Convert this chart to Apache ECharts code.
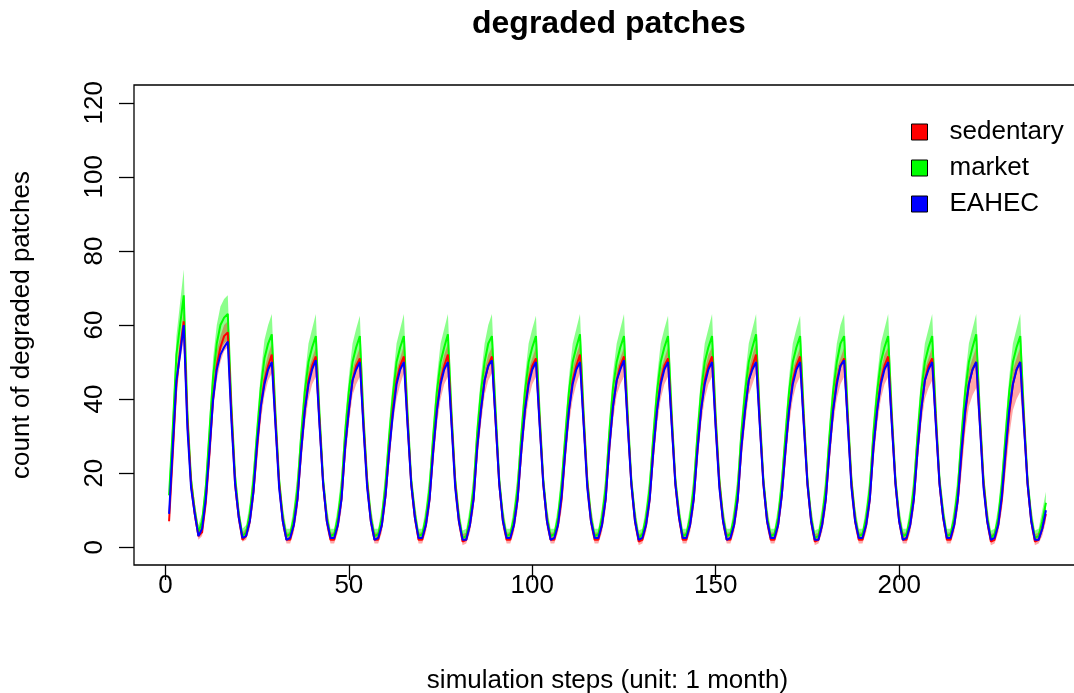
<!DOCTYPE html>
<html>
<head>
<meta charset="utf-8">
<script src="https://cdn.jsdelivr.net/npm/echarts@6/dist/echarts.min.js"></script>
<style>
  html, body { margin: 0; padding: 0; background: #fff; }
  #chart { width: 1074px; height: 693px; }
</style>
</head>
<body>
<div id="chart"></div>
<script>
// simulation steps 1..240
const steps = [
  1,2,3,4,5,6,7,8,9,10,11,12, 13,14,15,16,17,18,19,20,21,22,23,24,
  25,26,27,28,29,30,31,32,33,34,35,36, 37,38,39,40,41,42,43,44,45,46,47,48,
  49,50,51,52,53,54,55,56,57,58,59,60, 61,62,63,64,65,66,67,68,69,70,71,72,
  73,74,75,76,77,78,79,80,81,82,83,84, 85,86,87,88,89,90,91,92,93,94,95,96,
  97,98,99,100,101,102,103,104,105,106,107,108, 109,110,111,112,113,114,115,116,117,118,119,120,
  121,122,123,124,125,126,127,128,129,130,131,132, 133,134,135,136,137,138,139,140,141,142,143,144,
  145,146,147,148,149,150,151,152,153,154,155,156, 157,158,159,160,161,162,163,164,165,166,167,168,
  169,170,171,172,173,174,175,176,177,178,179,180, 181,182,183,184,185,186,187,188,189,190,191,192,
  193,194,195,196,197,198,199,200,201,202,203,204, 205,206,207,208,209,210,211,212,213,214,215,216,
  217,218,219,220,221,222,223,224,225,226,227,228, 229,230,231,232,233,234,235,236,237,238,239,240
];

// EAHEC mean
const eahecMean = [
  9,27,45,52,60,32,16,9,3,5,13,26,
  40,48,52,54,55.5,34,17,8,2.5,3,7,15,
  28,38,44,48,50,33,16,7,2,2.5,6,13,
  26,37,44,48,50.5,33,17,7,2.5,2.5,6,13,
  27,37,45,48,50,32,16,7,2,2.5,6,14,
  26,36,44,48,50,33,17,8,2.5,2.5,6,13,
  26,37,44,48,50,33,16,7,2,2,6,13,
  27,37,45,49,50.5,34,17,7,2.5,2.5,6,13,
  26,37,44,48,50,33,17,7,2,2.5,6,14,
  26,37,44,48,50,33,16,7,2.5,2.5,6,13,
  27,38,45,48,50.5,33,17,7,2,2.5,6,13,
  26,37,44,48,50,33,17,8,2.5,2.5,6,13,
  26,37,44,48,50,32,16,7,2,2.5,6,13,
  27,37,45,48,50,33,17,7,2.5,2.5,6,14,
  26,37,44,48,50,33,17,7,2,2,6,13,
  26,37,44,49,50.5,33,16,7,2.5,2.5,6,13,
  27,37,44,48,50,33,17,7,2,2.5,6,13,
  26,37,45,48,50,33,17,8,2.5,2.5,6,13,
  26,37,44,48,50,33,16,7,2,2.5,6,14,
  26,37,44,48,50,33,17,7,2,2,5,10
];

// sedentary mean, lower and upper
const sedMean = [
  7,25,44,53,61,34,17,9,3,4,12,25,
  40,49,54,57,58,36,17,8,2,3,7,15,
  27,38,45,49,52,34,17,7,2,2,6,13,
  26,37,45,49,51.5,34,17,7,2,2,6,13,
  27,37,45,49,51,33,17,7,2,2,6,14,
  26,37,45,49,51.5,34,17,8,2,2,6,13,
  26,37,45,49,52,34,17,7,1.5,2,6,13,
  27,37,45,49,51.5,34,17,7,2,2,6,13,
  26,37,45,49,51,34,17,7,2,2,6,13,
  26,37,45,49,52,34,17,7,2,2,6,13,
  27,38,45,49,51.5,34,17,7,1.5,2,6,13,
  26,37,45,49,51,34,17,8,2,2,6,13,
  26,37,45,49,51.5,33,17,7,2,2,6,13,
  27,37,45,49,52,34,17,7,2,2,6,14,
  26,37,45,49,51.5,34,17,7,1.5,2,6,13,
  26,37,45,49,51,34,17,7,2,2,6,13,
  27,37,45,49,51.5,34,17,7,2,2,6,13,
  26,37,45,49,51,34,17,8,2,2,6,13,
  25,36,44,48,50,34,17,7,1.5,2,6,13,
  25,36,44,48,50,34,17,7,1.5,2,5,9
];
const sedLow = [
  6,22,40,50,56,30,14,7,2,3,10,22,
  37,45,50,53,54,31,14,6,1.5,2,5,12,
  23,34,41,45,47,29,14,5,1,1,4,10,
  22,33,40,44,46,29,14,5,1,1,4,10,
  23,33,41,44,46,28,14,5,1,1,4,11,
  22,33,40,44,47,29,14,6,1,1,4,10,
  22,33,40,44,46,29,13,5,0.5,1,4,10,
  23,33,41,45,47,30,14,5,1,1,4,10,
  22,33,40,44,46,29,14,5,1,1,4,10,
  22,33,40,44,47,29,13,5,1,1,4,10,
  23,34,41,44,46,29,14,5,0.5,1,4,10,
  22,33,40,44,46,29,14,6,1,1,4,10,
  22,33,40,44,46,28,13,5,1,1,4,10,
  23,33,41,44,47,29,14,5,1,1,4,11,
  22,33,40,44,46,29,14,5,0.5,1,4,10,
  22,33,40,44,46,29,13,5,1,1,4,10,
  23,33,40,44,46,29,14,5,1,1,4,10,
  22,33,40,43,45,29,14,6,1,1,4,10,
  20,31,38,41,43,29,14,5,0.5,1,4,10,
  20,30,37,40,42,29,14,5,0.5,1,3,7
];
const sedHigh = [
  10,28,47,56,64,37,20,12,5,6,15,29,
  44,53,57,60,61,39,20,11,4,5,10,18,
  31,41,48,52,55,37,20,10,4,4,8,16,
  30,40,48,51,54,37,20,10,4,4,8,16,
  31,40,48,51,54,36,20,10,4,4,8,17,
  30,40,48,51,54.5,37,20,11,4,4,8,16,
  30,40,48,52,55,37,20,10,3.5,4,8,16,
  31,40,48,52,54,37,20,10,4,4,8,16,
  30,40,48,51,54,37,20,10,4,4,8,16,
  30,40,48,52,55,37,20,10,4,4,8,16,
  31,41,48,51,54,37,20,10,3.5,4,8,16,
  30,40,48,51,54,37,20,11,4,4,8,16,
  30,40,48,52,54,36,20,10,4,4,8,16,
  31,40,48,52,55,37,20,10,4,4,8,17,
  30,40,48,51,54,37,20,10,3.5,4,8,16,
  30,40,48,51,54,37,20,10,4,4,8,16,
  31,40,48,52,54,37,20,10,4,4,8,16,
  30,40,48,51,54,37,20,11,4,4,8,16,
  30,40,48,51,54,37,20,10,3.5,4,8,16,
  30,40,48,51,54,37,20,10,3.5,4,7,12
];

// market mean, lower and upper
const mktMean = [
  14,32,52,60,68,36,18,10,4,7,16,31,
  46,55,60,62,63,38,19,9,3,4,9,18,
  31,43,51,55,57.5,36,18,8,3,3.5,8,16,
  30,42,50,54,57,36,18,8,3,3.5,8,16,
  31,42,50,54,57,35,18,8,3,3.5,8,17,
  30,41,50,54,57,36,18,9,3,3.5,8,16,
  30,42,50,54,57.5,36,18,8,2.5,3,8,16,
  31,42,50,55,57,37,18,8,3,3.5,8,16,
  30,42,50,54,57,36,18,8,3,3.5,8,17,
  30,42,50,54,57.5,36,18,8,3,3.5,8,16,
  31,43,50,54,57,36,18,8,2.5,3.5,8,16,
  30,42,50,54,57,36,18,9,3,3.5,8,16,
  30,42,50,54,57,35,18,8,3,3.5,8,16,
  31,42,50,54,57.5,36,18,8,3,3.5,8,17,
  30,42,50,54,57,36,18,8,2.5,3,8,16,
  30,42,50,55,57,36,18,8,3,3.5,8,16,
  31,42,50,54,57,36,18,8,3,3.5,8,16,
  30,42,50,54,57,36,18,9,3,3.5,8,16,
  30,42,50,54,57.5,36,18,8,2.5,3.5,8,17,
  30,42,50,54,57,36,18,8,2.5,3,7,12
];
const mktLow = [
  11,27,46,53,60,31,15,8,3,5,13,27,
  41,49,53,55,56,34,16,7,2,3,7,15,
  27,38,45,49,51,32,16,6,2,2,6,13,
  26,37,44,48,50,32,16,6,2,2,6,13,
  27,37,44,48,50,31,16,6,2,2,6,14,
  26,36,44,48,50,32,16,7,2,2,6,13,
  26,37,44,48,50,32,15,6,1.5,2,6,13,
  27,37,45,48,50,33,16,6,2,2,6,13,
  26,37,44,48,50,32,16,6,2,2,6,14,
  26,37,44,48,50,32,16,6,2,2,6,13,
  27,38,44,48,50,32,16,6,1.5,2,6,13,
  26,37,44,48,50,32,16,7,2,2,6,13,
  26,37,44,48,50,31,15,6,2,2,6,13,
  27,37,45,48,50,32,16,6,2,2,6,14,
  26,37,44,48,50,32,16,6,1.5,2,6,13,
  26,37,44,48,50,32,15,6,2,2,6,13,
  27,37,44,48,50,32,16,6,2,2,6,13,
  26,37,44,48,50,32,16,7,2,2,6,13,
  26,37,44,48,50,32,15,6,1.5,2,6,14,
  26,37,44,48,50,32,16,6,1.5,2,5,9
];
const mktHigh = [
  17,36,57,66,75,40,21,12,6,9,19,35,
  51,60,65,67,68,42,22,11,5,6,12,22,
  35,47,56,60,63,40,21,11,5,5,11,20,
  34,46,55,59,63,40,21,11,5,5,11,20,
  35,46,55,59,62.5,39,21,11,5,5,11,21,
  34,45,55,59,63,40,21,12,5,5,11,20,
  34,46,55,59,63,40,21,11,4.5,5,11,20,
  35,46,55,60,63,41,21,11,5,5,11,20,
  34,46,55,59,62.5,40,21,11,5,5,11,21,
  34,46,55,59,63,40,21,11,5,5,11,20,
  35,47,55,59,63,40,21,11,4.5,5,11,20,
  34,46,55,59,62.5,40,21,12,5,5,11,20,
  34,46,55,59,63,39,21,11,5,5,11,20,
  35,46,55,59,63,40,21,11,5,5,11,21,
  34,46,55,59,62.5,40,21,11,4.5,5,11,20,
  34,46,55,60,63,40,21,11,5,5,11,20,
  35,46,55,59,63,40,21,11,5,5,11,20,
  34,46,55,59,63,40,21,12,5,5,11,20,
  34,46,55,59,63,40,21,11,4.5,5,11,21,
  34,46,55,59,63,40,21,11,4.5,5,10,15
];

const xTicks = [0, 50, 100, 150, 200];
const yTicks = [0, 20, 40, 60, 80, 100, 120];

const font = "'Liberation Sans', Arial, sans-serif";

function pairs(ys) {
  return steps.map((x, i) => [x, ys[i]]);
}

// shaded band between low and high, drawn as one polygon
function band(name, low, high, fill) {
  return {
    type: "custom",
    name: name,
    silent: true,
    data: [[steps[0], low[0]]],
    renderItem: (params, api) => {
      const pts = [];
      for (let i = 0; i < steps.length; i++) pts.push(api.coord([steps[i], high[i]]));
      for (let i = steps.length - 1; i >= 0; i--) pts.push(api.coord([steps[i], low[i]]));
      return { type: "polygon", shape: { points: pts }, style: { fill: fill } };
    },
  };
}

function meanLine(name, ys, color) {
  return {
    type: "line",
    name: name,
    data: pairs(ys),
    symbol: "none",
    lineStyle: { color: color, width: 2 },
    itemStyle: { color: color },
    animation: false,
  };
}

const chart = echarts.init(document.getElementById("chart"));
chart.setOption({
  animation: false,
  textStyle: { fontFamily: font, color: "#000" },
  title: {
    text: "degraded patches",
    left: 467,
    top: 3,
    textStyle: { fontFamily: font, fontSize: 32, fontWeight: "bold", color: "#000" },
  },
  legend: {
    orient: "vertical",
    left: 906,
    top: 114,
    itemWidth: 16,
    itemHeight: 16,
    itemGap: 10,
    icon: "rect",
    itemStyle: { borderColor: "#000", borderWidth: 1 },
    textStyle: { fontFamily: font, fontSize: 26, color: "#000", padding: [0, 0, 0, 17] },
    data: ["sedentary", "market", "EAHEC"],
  },
  grid: {
    left: 134,
    top: 85,
    width: 947,
    bottom: 128,
    outerBoundsMode: "none",
    show: true,
    borderColor: "#000",
    borderWidth: 1.3,
  },
  xAxis: {
    type: "value",
    min: -8.56,
    max: 249.56,
    name: "simulation steps (unit: 1 month)",
    nameLocation: "middle",
    nameGap: 103,
    nameTextStyle: { fontFamily: font, fontSize: 26, color: "#000" },
    axisLine: { show: false, onZero: false },
    splitLine: { show: false },
    axisTick: { show: true, inside: false, length: 15, customValues: xTicks, lineStyle: { color: "#000", width: 1.3 } },
    axisLabel: { customValues: xTicks, margin: 8, fontSize: 26, color: "#000", fontFamily: font },
  },
  yAxis: {
    type: "value",
    min: -4.8,
    max: 124.8,
    name: "count of degraded patches",
    nameLocation: "middle",
    nameGap: 99,
    nameTextStyle: { fontFamily: font, fontSize: 26, color: "#000" },
    axisLine: { show: false, onZero: false },
    splitLine: { show: false },
    axisTick: { show: true, inside: false, length: 15, customValues: yTicks, lineStyle: { color: "#000", width: 1.3 } },
    axisLabel: { customValues: yTicks, rotate: 90, margin: 26, fontSize: 26, color: "#000", fontFamily: font },
  },
  series: [
    band("market band", mktLow, mktHigh, "rgba(0,255,0,0.45)"),
    meanLine("market", mktMean, "#00ff00"),
    band("sedentary band", sedLow, sedHigh, "rgba(255,0,0,0.35)"),
    meanLine("sedentary", sedMean, "#ff0000"),
    meanLine("EAHEC", eahecMean, "#0000ff"),
  ],
});
</script>
</body>
</html>
